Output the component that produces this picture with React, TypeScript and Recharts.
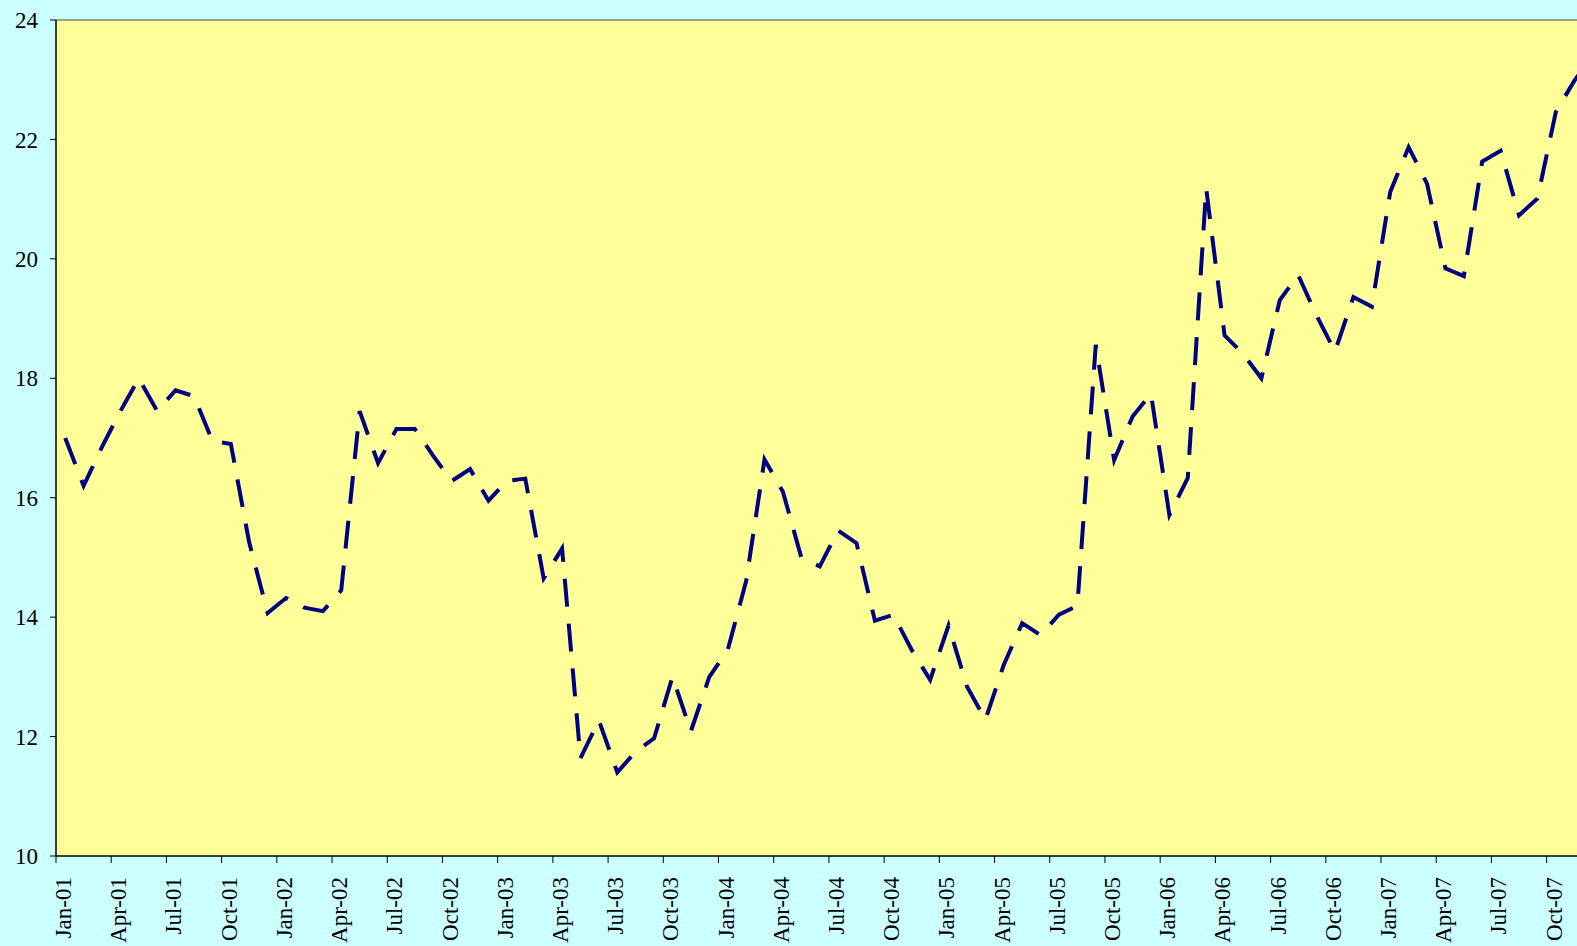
import React from 'react';
import { LineChart, Line, XAxis, YAxis, ReferenceArea, ReferenceLine } from 'recharts';

// monthly values, Jan-01 .. Dec-07
const VALUES = [
  17.0, 16.2, 16.85, 17.45, 18.0, 17.45, 17.8, 17.7, 16.95, 16.9, 15.25, 14.07,
  14.32, 14.16, 14.1, 14.45, 17.45, 16.58, 17.15, 17.15, 16.7, 16.28, 16.48, 15.95,
  16.28, 16.32, 14.65, 15.15, 11.64, 12.27, 11.4, 11.75, 11.97, 13.0, 12.09, 13.0,
  13.45, 14.6, 16.64, 16.1, 15.0, 14.85, 15.45, 15.24, 13.94, 14.04, 13.45, 12.95,
  13.86, 12.84, 12.28, 13.2, 13.9, 13.7, 14.04, 14.19, 18.56, 16.63, 17.36, 17.74,
  15.71, 16.33, 21.18, 18.72, 18.41, 18.0, 19.31, 19.73, 19.05, 18.45, 19.36, 19.2,
  21.12, 21.87, 21.26, 19.84, 19.71, 21.63, 21.81, 20.73, 21.01, 22.46, 22.98, 23.4,
];

// one label every third month
const TICK_LABELS = [
  'Jan-01', 'Apr-01', 'Jul-01', 'Oct-01',
  'Jan-02', 'Apr-02', 'Jul-02', 'Oct-02',
  'Jan-03', 'Apr-03', 'Jul-03', 'Oct-03',
  'Jan-04', 'Apr-04', 'Jul-04', 'Oct-04',
  'Jan-05', 'Apr-05', 'Jul-05', 'Oct-05',
  'Jan-06', 'Apr-06', 'Jul-06', 'Oct-06',
  'Jan-07', 'Apr-07', 'Jul-07', 'Oct-07',
];

const Y_TICKS = [10, 12, 14, 16, 18, 20, 22, 24];

// points sit between month ticks; plot is cut at the window's right edge
const X_MAX = 82.65;

const data = VALUES.map((v, i) => ({ t: i + 0.5, value: v }));
const xTicks = TICK_LABELS.map((_, i) => i * 3);

const FONT = '"Liberation Serif", "Times New Roman", serif';

const MonthTick = (props: any) => {
  const { x, y, payload } = props;
  const label = TICK_LABELS[Math.round(payload.value / 3)];
  const tx = x + 7;
  const ty = y + 12;
  return (
    <text
      x={tx}
      y={ty}
      dy="0.35em"
      textAnchor="end"
      transform={`rotate(-90, ${tx}, ${ty})`}
      fontFamily={FONT}
      fontSize={23}
      fill="#000"
    >
      {label}
    </text>
  );
};

export default function App() {
  return (
    <div
      style={{
        position: 'fixed',
        left: 0,
        top: 0,
        width: 1577,
        height: 946,
        background: '#CCFFFF',
        overflow: 'hidden',
      }}
    >
      <LineChart width={1577} height={946} data={data} margin={{ top: 20, right: 0, bottom: 0, left: 0 }}>
        <XAxis
          dataKey="t"
          type="number"
          domain={[0, X_MAX]}
          allowDataOverflow
          ticks={xTicks}
          interval={0}
          height={90}
          tickSize={7}
          tick={<MonthTick />}
          axisLine={{ stroke: '#000', strokeWidth: 1.5 }}
          tickLine={{ stroke: '#000' }}
        />
        <YAxis
          type="number"
          domain={[10, 24]}
          ticks={Y_TICKS}
          interval={0}
          width={56}
          tickSize={6}
          tickMargin={12}
          tick={{ fontFamily: FONT, fontSize: 23, fill: '#000' }}
          axisLine={{ stroke: '#000', strokeWidth: 1.5 }}
          tickLine={{ stroke: '#000' }}
        />
        <ReferenceArea x1={0} x2={X_MAX} y1={10} y2={24} fill="#FFFF99" fillOpacity={1} stroke="none" />
        <ReferenceLine y={24} stroke="#808080" strokeWidth={1.5} />
        <Line
          type="linear"
          dataKey="value"
          stroke="#000080"
          strokeWidth={4}
          strokeDasharray="28 17"
          dot={false}
          isAnimationActive={false}
        />
      </LineChart>
    </div>
  );
}
